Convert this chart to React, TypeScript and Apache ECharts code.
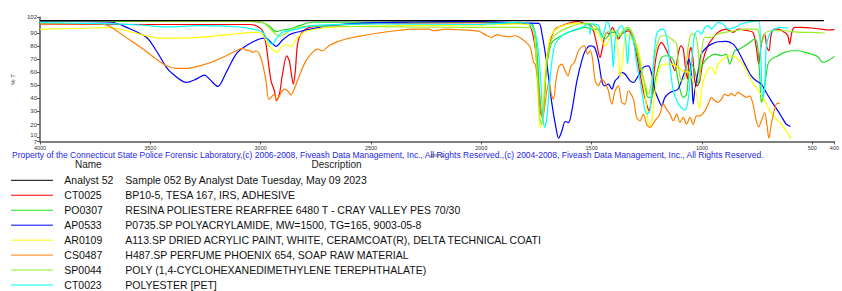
import React, { useEffect, useRef } from "react";
import * as echarts from "echarts";

// ---- Data (wavenumber cm-1, %T) ----
const xTicks = [4000, 3500, 3000, 2500, 2000, 1500, 1000, 500, 400];
const yTicks = [7, 10, 20, 30, 40, 50, 60, 70, 80, 90, 102];

const names = ["Analyst 52", "CT0025", "PO0307", "AP0533", "AR0109", "CS0487", "SP0044", "CT0023"];
const descriptions = [
  "Sample 052 By Analyst Date Tuesday, May 09 2023",
  "BP10-5, TESA 167, IRS, ADHESIVE",
  "RESINA POLIESTERE REARFREE 6480 T - CRAY VALLEY PES 70/30",
  "P0735.SP POLYACRYLAMIDE, MW=1500, TG=165, 9003-05-8",
  "A113.SP DRIED ACRYLIC PAINT, WHITE, CERAMCOAT(R), DELTA TECHNICAL COATI",
  "H487.SP PERFUME PHOENIX 654, SOAP RAW MATERIAL",
  "POLY (1,4-CYCLOHEXANEDIMETHYLENE TEREPHTHALATE)",
  "POLYESTER [PET]",
];
const colors = ["#000000", "#ff0000", "#22dd22", "#0000ff", "#ffff00", "#ff8000", "#99ee22", "#00ffff"];

const analyst52 = [[4000, 99.4], [3000, 99.4], [2000, 99.4], [1000, 99.4], [448, 99.4]];

const ct0025 = [
  [4000, 96.9], [3503, 96.5], [3051, 96.5], [3021, 95.6], [2991, 91.7], [2976, 81.5], [2964, 66.2], [2953, 53.4],
  [2938, 45.8], [2928, 38.1], [2915, 43.2], [2901, 58.6], [2882, 72.6], [2870, 68.7], [2863, 61.1], [2852, 50.9],
  [2843, 61.1], [2833, 81.5], [2818, 89.2], [2795, 93.0], [2765, 94.8], [2690, 95.6], [2540, 97.2], [2012, 98.0],
  [1831, 97.4], [1786, 96.9], [1756, 79.0], [1744, 53.4], [1733, 30.4], [1725, 26.6], [1715, 40.7], [1703, 68.7],
  [1688, 84.1], [1665, 93.0], [1635, 95.6], [1590, 98.2], [1560, 98.9], [1529, 96.9], [1507, 96.3], [1492, 91.7],
  [1477, 81.5], [1462, 71.3], [1454, 76.4], [1442, 86.7], [1431, 90.5], [1421, 89.2], [1406, 94.3], [1394, 90.5],
  [1379, 85.4], [1364, 89.2], [1349, 90.5], [1334, 91.7], [1322, 89.2], [1311, 84.1], [1296, 72.6], [1281, 58.6],
  [1266, 45.8], [1251, 35.6], [1240, 30.4], [1228, 40.7], [1213, 66.2], [1198, 79.0], [1183, 82.8], [1168, 79.0],
  [1153, 73.9], [1138, 67.5], [1123, 61.1], [1108, 73.9], [1096, 80.2], [1085, 77.7], [1075, 63.7], [1066, 54.7],
  [1058, 73.9], [1050, 79.0], [1040, 68.7], [1033, 53.4], [1022, 49.6], [1010, 53.4], [995, 69.3], [972, 80.8],
  [957, 84.6], [927, 90.5], [890, 93.0], [859, 90.5], [837, 93.0], [792, 91.7], [769, 90.5], [754, 79.0],
  [743, 66.2], [731, 81.5], [716, 89.2], [706, 79.0], [697, 76.4], [686, 89.2], [671, 93.0], [656, 93.0],
  [626, 90.5], [611, 87.9], [603, 81.5], [593, 90.5], [580, 94.3], [551, 94.3], [505, 93.8], [460, 93.0],
  [430, 92.3], [400, 92.5],
];

const po0307 = [
  [4000, 98.8], [3051, 98.8], [2992, 98.0], [2961, 95.4], [2930, 91.0], [2902, 92.3], [2870, 93.0], [2825, 95.6],
  [2766, 98.2], [2012, 98.4], [1831, 97.4], [1771, 96.9], [1756, 89.2], [1744, 66.2], [1736, 43.2], [1728, 27.9],
  [1722, 25.4], [1716, 35.6], [1708, 58.6], [1695, 73.9], [1680, 82.8], [1650, 86.7], [1605, 90.5], [1560, 93.0],
  [1529, 94.3], [1500, 93.0], [1469, 93.0], [1454, 87.9], [1439, 85.4], [1424, 87.9], [1409, 90.5], [1394, 90.5],
  [1379, 86.7], [1364, 89.2], [1349, 91.7], [1334, 93.0], [1319, 90.5], [1304, 84.1], [1289, 71.3], [1273, 58.6],
  [1258, 48.4], [1243, 40.7], [1228, 40.7], [1213, 53.4], [1198, 63.7], [1183, 71.3], [1161, 72.6], [1138, 71.3],
  [1123, 66.2], [1100, 47.1], [1085, 40.7], [1070, 43.2], [1063, 53.4], [1048, 66.2], [1033, 61.1], [1017, 50.9],
  [1010, 58.6], [1003, 63.7], [987, 68.7], [972, 71.3], [942, 73.9], [912, 72.6], [890, 73.9], [875, 66.2],
  [867, 68.7], [852, 76.4], [829, 77.7], [806, 80.2], [784, 82.8], [761, 85.4], [749, 81.5], [739, 58.6],
  [731, 36.9], [724, 40.7], [713, 53.4], [701, 66.2], [686, 70.0], [656, 72.6], [626, 75.2], [596, 76.4],
  [566, 76.4], [535, 75.2], [505, 73.9], [475, 71.9], [453, 67.5], [430, 68.7], [400, 72.1],
];

const ap0533 = [
  [4000, 99.0], [3675, 98.2], [3608, 94.3], [3518, 86.7], [3473, 76.4], [3427, 63.7], [3398, 58.6], [3337, 52.2],
  [3292, 54.7], [3254, 57.8], [3232, 54.7], [3194, 49.1], [3156, 59.9], [3111, 73.9], [3066, 80.2], [3006, 85.4],
  [2976, 86.1], [2953, 82.8], [2930, 79.8], [2901, 84.6], [2870, 88.7], [2855, 89.7], [2795, 92.3], [2690, 95.6],
  [2540, 97.6], [2314, 98.4], [2012, 98.8], [1808, 97.6], [1740, 97.4], [1725, 89.2], [1703, 66.2], [1680, 35.6],
  [1662, 17.7], [1650, 9.5], [1635, 15.1], [1620, 22.3], [1605, 21.5], [1590, 30.4], [1567, 53.4], [1545, 68.7],
  [1529, 76.4], [1507, 80.2], [1487, 79.0], [1469, 68.7], [1454, 53.4], [1442, 49.6], [1424, 50.9], [1409, 47.1],
  [1394, 53.4], [1379, 56.0], [1364, 59.9], [1349, 58.6], [1326, 53.4], [1311, 52.2], [1289, 57.2], [1266, 63.7],
  [1243, 64.9], [1228, 58.6], [1213, 45.8], [1198, 39.4], [1183, 34.3], [1168, 40.7], [1145, 44.5], [1123, 45.8],
  [1108, 47.1], [1085, 57.2], [1070, 64.9], [1060, 70.0], [1048, 58.6], [1040, 35.6], [1033, 45.8], [1017, 61.1],
  [1003, 73.9], [979, 79.0], [957, 81.5], [927, 83.3], [890, 83.6], [859, 81.5], [837, 76.4], [806, 66.2],
  [777, 57.2], [754, 53.4], [731, 50.9], [709, 44.5], [686, 38.1], [656, 30.4], [633, 24.1], [618, 20.2],
  [599, 18.5],
];

const ar0109 = [
  [4000, 92.8], [3684, 94.0], [3608, 91.7], [3518, 87.9], [3458, 86.1], [3367, 86.1], [3247, 87.1], [3126, 89.2],
  [3036, 90.5], [3006, 90.5], [2983, 86.7], [2961, 80.2], [2938, 76.4], [2923, 75.2], [2908, 79.0], [2885, 81.0],
  [2870, 80.2], [2863, 79.5], [2848, 82.8], [2825, 87.9], [2795, 91.3], [2765, 92.5], [2720, 93.8], [2614, 94.8],
  [2373, 95.7], [2012, 96.1], [1831, 96.9], [1771, 95.6], [1756, 84.1], [1748, 58.6], [1740, 33.0], [1733, 17.7],
  [1725, 20.2], [1718, 40.7], [1708, 66.2], [1695, 81.5], [1680, 89.2], [1650, 94.3], [1605, 96.9], [1560, 97.4],
  [1529, 96.9], [1500, 94.3], [1469, 89.2], [1454, 84.1], [1439, 80.2], [1431, 81.5], [1416, 86.7], [1394, 89.2],
  [1379, 73.9], [1371, 56.0], [1361, 66.2], [1349, 85.4], [1334, 89.2], [1319, 85.4], [1296, 81.5], [1281, 71.3],
  [1266, 53.4], [1251, 33.0], [1240, 17.7], [1228, 22.8], [1216, 40.7], [1206, 53.4], [1191, 63.7], [1168, 66.2],
  [1138, 66.2], [1108, 63.7], [1078, 60.3], [1063, 60.3], [1033, 48.8], [1017, 36.1], [1010, 32.5], [1003, 45.8],
  [987, 57.2], [972, 62.4], [957, 63.7], [942, 58.6], [927, 66.2], [905, 70.0], [882, 72.6], [852, 71.9],
  [829, 68.7], [806, 63.7], [784, 56.0], [761, 49.6], [739, 44.5], [716, 38.1], [693, 30.4], [671, 25.4],
  [641, 20.2], [618, 15.1], [596, 9.0],
];

const cs0487 = [
  [4000, 97.2], [3729, 96.9], [3691, 95.6], [3653, 91.7], [3593, 84.6], [3533, 77.7], [3473, 70.0], [3427, 64.9],
  [3382, 62.9], [3337, 62.9], [3277, 64.9], [3217, 68.0], [3156, 72.6], [3111, 76.4], [3081, 78.2], [3066, 76.9],
  [3051, 76.4], [3036, 75.2], [3021, 76.4], [3006, 73.9], [2991, 66.2], [2976, 53.4], [2964, 39.4], [2953, 40.7],
  [2938, 43.2], [2928, 38.6], [2915, 41.9], [2893, 47.1], [2878, 45.8], [2863, 42.7], [2848, 47.1], [2825, 57.2],
  [2795, 68.7], [2765, 75.2], [2742, 77.7], [2720, 76.4], [2690, 80.2], [2660, 82.8], [2614, 85.4], [2539, 87.9],
  [2464, 90.0], [2388, 91.7], [2313, 93.0], [2238, 93.0], [2215, 91.7], [2162, 93.0], [2087, 92.3], [2012, 91.3],
  [1974, 87.9], [1952, 86.7], [1929, 88.7], [1906, 87.9], [1876, 87.1], [1846, 87.9], [1816, 85.4], [1789, 81.5],
  [1778, 79.0], [1763, 67.5], [1756, 66.2], [1748, 58.6], [1737, 43.2], [1728, 27.9], [1722, 25.4], [1713, 33.4],
  [1703, 45.8], [1692, 52.2], [1683, 43.2], [1673, 39.4], [1662, 53.4], [1650, 63.7], [1635, 66.2], [1620, 61.1],
  [1608, 57.2], [1593, 64.9], [1578, 67.5], [1563, 75.2], [1548, 79.0], [1533, 80.2], [1518, 73.9], [1507, 76.4],
  [1497, 71.3], [1484, 53.4], [1469, 49.6], [1454, 54.7], [1436, 50.9], [1424, 45.8], [1409, 35.6], [1394, 45.8],
  [1379, 49.6], [1364, 36.9], [1349, 35.6], [1334, 45.8], [1311, 39.4], [1296, 25.4], [1281, 22.8], [1266, 27.9],
  [1251, 20.2], [1236, 17.7], [1213, 22.8], [1191, 27.9], [1176, 35.6], [1161, 31.8], [1145, 27.9], [1130, 22.8],
  [1115, 27.9], [1100, 21.5], [1085, 25.4], [1070, 20.2], [1055, 25.4], [1040, 20.2], [1025, 26.6], [1010, 26.6],
  [987, 30.4], [972, 35.6], [957, 40.7], [942, 38.1], [927, 36.9], [912, 39.4], [897, 43.2], [882, 41.9],
  [867, 43.8], [852, 41.9], [837, 44.5], [822, 43.2], [799, 40.7], [784, 41.9], [769, 35.6], [754, 22.8],
  [743, 18.2], [731, 22.8], [716, 29.2], [706, 20.2], [697, 9.5], [686, 20.2], [671, 31.8], [659, 36.1],
  [648, 36.1],
];

const sp0044 = [
  [4000, 99.2], [3051, 98.8], [2992, 98.0], [2961, 93.8], [2933, 89.2], [2911, 87.7], [2884, 90.0], [2848, 93.4],
  [2780, 95.3], [2599, 95.0], [2012, 94.3], [1831, 94.3], [1771, 93.8], [1756, 81.5], [1745, 53.4], [1736, 27.9],
  [1728, 20.2], [1721, 25.4], [1710, 53.4], [1698, 73.9], [1680, 85.4], [1650, 90.5], [1605, 94.3], [1560, 96.9],
  [1515, 97.4], [1477, 94.3], [1462, 89.2], [1447, 86.7], [1431, 90.5], [1409, 91.7], [1386, 91.7], [1371, 87.9],
  [1356, 93.0], [1334, 94.3], [1311, 87.9], [1289, 73.9], [1273, 61.1], [1258, 50.9], [1243, 43.2], [1228, 53.4],
  [1213, 73.9], [1198, 84.1], [1183, 87.9], [1161, 87.9], [1138, 85.4], [1115, 81.5], [1108, 66.2], [1093, 53.4],
  [1078, 56.0], [1063, 79.0], [1048, 89.2], [1033, 89.2], [1017, 76.4], [1010, 54.0], [1003, 73.1], [987, 86.7],
  [957, 86.7], [927, 89.2], [897, 90.5], [852, 91.7], [806, 93.0], [761, 93.0], [746, 92.3], [731, 81.5],
  [716, 89.2], [686, 91.7], [626, 91.7], [551, 90.5], [505, 90.5], [444, 90.0],
];

const ct0023 = [
  [4000, 97.9], [3729, 97.2], [3548, 96.1], [3427, 94.6], [3277, 95.6], [3096, 94.6], [3036, 93.0], [2991, 90.5],
  [2961, 82.8], [2946, 81.5], [2930, 85.4], [2901, 90.5], [2870, 91.7], [2825, 93.4], [2766, 95.7], [2464, 96.9],
  [2012, 96.5], [1831, 98.2], [1771, 95.6], [1748, 84.1], [1733, 58.6], [1722, 27.9], [1713, 17.7], [1703, 25.4],
  [1692, 48.4], [1680, 68.7], [1665, 81.5], [1635, 87.9], [1590, 91.7], [1545, 94.3], [1515, 96.9], [1507, 89.2],
  [1500, 96.9], [1469, 95.6], [1454, 86.7], [1442, 91.7], [1431, 98.2], [1421, 96.9], [1409, 81.5], [1402, 63.7],
  [1394, 84.1], [1379, 93.0], [1364, 95.6], [1349, 89.2], [1337, 66.2], [1326, 89.2], [1311, 84.1], [1296, 66.2],
  [1281, 53.4], [1266, 38.1], [1251, 27.9], [1236, 30.4], [1221, 63.7], [1206, 89.2], [1183, 93.0], [1168, 91.7],
  [1153, 79.0], [1141, 58.6], [1130, 45.8], [1115, 38.6], [1100, 34.0], [1078, 31.0], [1063, 38.6], [1048, 66.2],
  [1033, 89.2], [1017, 91.7], [1003, 89.2], [987, 94.3], [972, 95.6], [957, 93.0], [942, 95.6], [927, 98.2],
  [905, 96.9], [882, 93.0], [852, 94.3], [822, 96.9], [792, 98.2], [743, 99.4], [734, 73.9], [725, 40.7],
  [716, 48.4], [709, 79.0], [693, 89.2], [671, 93.0], [641, 94.3], [611, 93.6],
];

const seriesData = [analyst52, ct0025, po0307, ap0533, ar0109, cs0487, sp0044, ct0023];

const copyright =
  "Property of the Connecticut State Police Forensic Laboratory,(c) 2006-2008, Fiveash Data Management, Inc., All Rights Reserved.,(c) 2004-2008, Fiveash Data Management, Inc., All Rights Reserved.";

const FONT = "'Liberation Sans', Arial, Helvetica, sans-serif";

export default function App() {
  const ref = useRef<HTMLDivElement>(null);

  useEffect(() => {
    if (!ref.current) return;
    const chart = echarts.init(ref.current, undefined, { renderer: "svg" });

    const graphics: any[] = [];
    graphics.push({
      type: "text",
      x: 75,
      y: 164.7,
      style: { text: "Name", fontSize: 10, lineHeight: 10, fontFamily: FONT, fill: "#222", verticalAlign: "middle" },
    });
    graphics.push({
      type: "text",
      x: 311.5,
      y: 164.7,
      style: { text: "Description", fontSize: 10, lineHeight: 10, fontFamily: FONT, fill: "#222", verticalAlign: "middle" },
    });
    names.forEach((n, i) => {
      const cy = 180.3 + i * 14.96;
      graphics.push({
        type: "line",
        shape: { x1: 11, y1: cy, x2: 53, y2: cy },
        style: { stroke: colors[i], lineWidth: 1 },
      });
      graphics.push({
        type: "text",
        x: 64.3,
        y: cy,
        style: { text: n, fontSize: 10.5, lineHeight: 11, fontFamily: FONT, fill: "#111", verticalAlign: "middle" },
      });
      graphics.push({
        type: "text",
        x: 125.3,
        y: cy,
        style: { text: descriptions[i], fontSize: 10.5, lineHeight: 11, fontFamily: FONT, fill: "#111", verticalAlign: "middle" },
      });
    });
    graphics.push({
      type: "text",
      x: 12,
      y: 155.3,
      style: { text: copyright, fontSize: 8.5, lineHeight: 8.5, fontFamily: FONT, fill: "#2626e6", verticalAlign: "middle" },
    });

    chart.setOption({
      animation: false,
      backgroundColor: "#ffffff",
      grid: { left: 40, right: 5.3, top: 17.3, bottom: 149.5, containLabel: false },
      xAxis: {
        type: "value",
        min: 400,
        max: 4000,
        inverse: true,
        name: "cm-1",
        nameLocation: "middle",
        nameGap: 10.5,
        nameTextStyle: { fontSize: 6, fontFamily: FONT, color: "#333" },
        axisLine: { show: true, onZero: false, lineStyle: { color: "#555", width: 1.5 } },
        axisTick: { show: true, length: 3, customValues: xTicks, lineStyle: { color: "#555" } },
        axisLabel: {
          customValues: xTicks,
          fontSize: 5.5,
          fontFamily: FONT,
          color: "#333",
          margin: 3,
          showMinLabel: true,
          showMaxLabel: true,
          formatter: (v: number) => String(v),
        },
        splitLine: { show: false },
      },
      yAxis: {
        type: "value",
        min: 7,
        max: 102,
        name: "% T",
        nameLocation: "middle",
        nameRotate: 90,
        nameGap: 22,
        nameTextStyle: { fontSize: 6, fontFamily: FONT, color: "#333" },
        axisLine: { show: true, onZero: false, lineStyle: { color: "#555", width: 1.5 } },
        axisTick: { show: true, length: 3, customValues: yTicks, lineStyle: { color: "#555" } },
        axisLabel: {
          customValues: yTicks,
          fontSize: 6,
          fontFamily: FONT,
          color: "#333",
          margin: 3,
          showMinLabel: true,
          showMaxLabel: true,
          hideOverlap: false,
          formatter: (v: number) => (v === 10 ? "{up|10}" : String(v)),
          rich: { up: { fontSize: 6, fontFamily: FONT, color: "#333", padding: [0, 0, 5, 0] } },
        },
        splitLine: { show: false },
      },
      graphic: graphics,
      series: seriesData.map((d, i) => ({
        type: "line",
        name: names[i],
        data: d,
        showSymbol: false,
        smooth: 0.3,
        lineStyle: { color: colors[i], width: 1.2 },
        itemStyle: { color: colors[i] },
        z: i === 0 ? 10 : 2,
      })),
    });

    return () => chart.dispose();
  }, []);

  return (
    <div
      ref={ref}
      style={{ position: "fixed", left: 0, top: 0, width: 842, height: 291, background: "#fff" }}
    />
  );
}
